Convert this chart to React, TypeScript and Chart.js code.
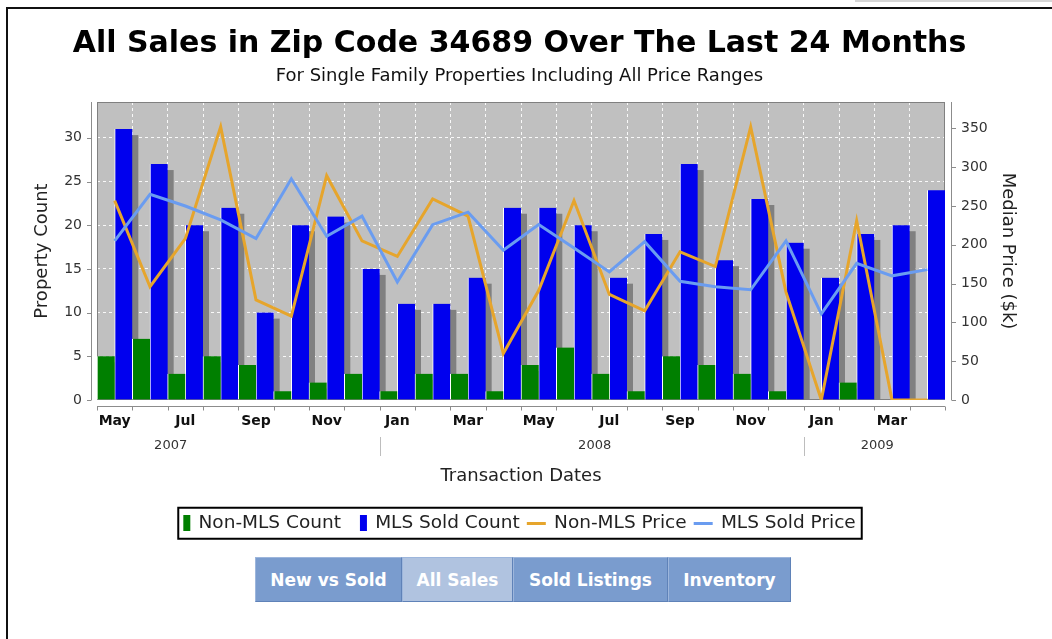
import React, { useEffect, useRef } from 'react';
import { Chart, registerables } from 'chart.js';

Chart.register(...registerables);

const FONT = "'DejaVu Sans', 'Liberation Sans', sans-serif";

// ---- data ----
const months = ['May', 'Jun', 'Jul', 'Aug', 'Sep', 'Oct', 'Nov', 'Dec', 'Jan', 'Feb', 'Mar', 'Apr',
  'May', 'Jun', 'Jul', 'Aug', 'Sep', 'Oct', 'Nov', 'Dec', 'Jan', 'Feb', 'Mar', 'Apr'];
const startYear = 2007;
const nonMlsCount = [5, 7, 3, 5, 4, 1, 2, 3, 1, 3, 3, 1, 4, 6, 3, 1, 5, 4, 3, 1, 0, 2, 0, 0];
const mlsSoldCount = [31, 27, 20, 22, 10, 20, 21, 15, 11, 11, 14, 22, 22, 20, 14, 19, 27, 16, 23, 18, 14, 19, 20, 24];
const nonMlsPrice = [257, 146, 208, 352, 129, 108, 289, 205, 185, 259, 237, 60, 141, 257, 136, 115, 191, 172, 352, 139, 0, 231, 0, 0];
const mlsSoldPrice = [205, 265, 250, 232, 208, 285, 211, 237, 152, 226, 242, 193, 226, 196, 165, 204, 153, 146, 142, 205, 111, 176, 160, 168];
const countAxisMax = 34.1;
const priceAxisMax = 384;
const seriesNames = ['Non-MLS Count', 'MLS Sold Count', 'Non-MLS Price', 'MLS Sold Price'];
const seriesColors = ['#007f00', '#0000ee', '#e6a52c', '#6a9cf0'];
const buttonLabels = ['New vs Sold', 'All Sales', 'Sold Listings', 'Inventory'];
const buttonWidths = [147, 111, 155, 123];
const activeButton = 1;

// legend marker images (centred on the 6px legend box; marker ends 8px before the text)
function barMarker(color: string) {
  const c = document.createElement('canvas');
  c.width = 40; c.height = 16;
  const g = c.getContext('2d')!;
  g.fillStyle = color;
  g.fillRect(17, 0, 7, 16);
  return c;
}
function lineMarker(color: string) {
  const c = document.createElement('canvas');
  c.width = 40; c.height = 3;
  const g = c.getContext('2d')!;
  g.fillStyle = color;
  g.fillRect(5, 0, 19, 3);
  return c;
}

const decorPlugin = {
  id: 'decor',
  beforeDraw(chart: any) {
    const { ctx, chartArea: a } = chart;
    ctx.save();
    ctx.fillStyle = '#c0c0c0';
    ctx.fillRect(a.left, a.top, a.right - a.left, a.bottom - a.top);
    ctx.restore();
  },
  beforeDatasetsDraw(chart: any) {
    const { ctx, chartArea: a } = chart;
    ctx.save();
    ctx.strokeStyle = '#808080';
    ctx.lineWidth = 1;
    ctx.strokeRect(a.left + 0.5, a.top + 0.5, a.right - a.left - 1, a.bottom - a.top - 1);
    ctx.beginPath();
    ctx.rect(a.left, a.top, a.right - a.left, a.bottom - a.top);
    ctx.clip();
    ctx.fillStyle = '#808080';
    chart.data.datasets.forEach((ds: any, i: number) => {
      const meta = chart.getDatasetMeta(i);
      if (meta.type !== 'bar') return;
      meta.data.forEach((el: any) => {
        const { x, y, base, width } = el.getProps(['x', 'y', 'base', 'width'], true);
        const top = y + 6;
        const h = base - top;
        if (h > 0) ctx.fillRect(x - width / 2 + 6, top, width, h);
      });
    });
    ctx.restore();
  },
  afterDraw(chart: any) {
    const { ctx, chartArea: a, scales } = chart;
    const xs = scales.x, ys = scales.y, y1 = scales.y1;
    ctx.save();
    ctx.strokeStyle = '#8c8c8c';
    ctx.lineWidth = 1;
    ctx.beginPath();
    // axis lines (offset from plot area)
    ctx.moveTo(a.left - 5.5, a.top); ctx.lineTo(a.left - 5.5, a.bottom);
    ctx.moveTo(a.right + 6.5, a.top); ctx.lineTo(a.right + 6.5, a.bottom);
    ctx.moveTo(a.left, a.bottom + 6.5); ctx.lineTo(a.right, a.bottom + 6.5);
    ys.ticks.forEach((t: any) => {
      const p = Math.round(ys.getPixelForValue(t.value)) + 0.5;
      ctx.moveTo(a.left - 10, p); ctx.lineTo(a.left - 5.5, p);
    });
    y1.ticks.forEach((t: any) => {
      const p = Math.round(y1.getPixelForValue(t.value)) + 0.5;
      ctx.moveTo(a.right + 6.5, p); ctx.lineTo(a.right + 11, p);
    });
    for (let i = 0; i <= months.length; i++) {
      const p = Math.round(xs.getPixelForValue(i - 0.5)) + 0.5;
      ctx.moveTo(p, a.bottom + 6.5); ctx.lineTo(p, a.bottom + 10.5);
    }
    ctx.stroke();

    // year row
    const yearStarts: { year: number; first: number; last: number; jan: number }[] = [];
    let year = startYear;
    const firstMonthIdx = ['Jan', 'Feb', 'Mar', 'Apr', 'May', 'Jun', 'Jul', 'Aug', 'Sep', 'Oct', 'Nov', 'Dec'].indexOf(months[0]);
    yearStarts.push({ year, first: 0, last: 0, jan: -firstMonthIdx });
    months.forEach((m, i) => {
      if (m === 'Jan' && i > 0) {
        year += 1;
        yearStarts.push({ year, first: i, last: i, jan: i });
      }
      yearStarts[yearStarts.length - 1].last = i;
    });
    ctx.font = `13px ${FONT}`;
    ctx.fillStyle = '#333';
    ctx.textAlign = 'center';
    ctx.textBaseline = 'middle';
    ctx.strokeStyle = '#bdbdbd';
    yearStarts.forEach((ys2, k) => {
      let px = xs.getPixelForValue(ys2.jan + 5.5);
      if (px < a.left || px > a.right) {
        px = (xs.getPixelForValue(ys2.first - 0.5) + xs.getPixelForValue(ys2.last + 0.5)) / 2;
      }
      ctx.fillText(String(ys2.year), px + 3, a.bottom + 46);
      if (k > 0) {
        const sx = Math.round(xs.getPixelForValue(ys2.first - 0.5)) + 0.5;
        ctx.beginPath();
        ctx.moveTo(sx, a.bottom + 37); ctx.lineTo(sx, a.bottom + 56);
        ctx.stroke();
      }
    });

    // legend frame
    const hb = chart.legend && chart.legend.legendHitBoxes;
    if (hb && hb.length) {
      const first = hb[0], last = hb[hb.length - 1];
      const cy = first.top + first.height / 2;
      const l = first.left - 5;
      ctx.strokeStyle = '#000';
      ctx.lineWidth = 2;
      ctx.strokeRect(l, cy - 15.5, last.left + last.width + 6 - l, 31);
    }
    ctx.restore();
  },
};

export default function App() {
  const ref = useRef<HTMLCanvasElement>(null);
  useEffect(() => {
    const markers = [barMarker(seriesColors[0]), barMarker(seriesColors[1]), lineMarker(seriesColors[2]), lineMarker(seriesColors[3])];
    const tickFont = { family: FONT, size: 14 };
    const titleFont = { family: FONT, size: 18 };
    const chart = new Chart(ref.current!, {
      type: 'bar',
      data: {
        labels: months,
        datasets: [
          { type: 'bar', label: seriesNames[0], data: nonMlsCount, backgroundColor: seriesColors[0], borderColor: '#ffffff', borderWidth: { left: 1, top: 0, right: 0, bottom: 0 }, borderSkipped: false, yAxisID: 'y', order: 2, categoryPercentage: 1, barPercentage: 1 },
          { type: 'bar', label: seriesNames[1], data: mlsSoldCount, backgroundColor: seriesColors[1], borderColor: '#ffffff', borderWidth: { left: 1, top: 0, right: 0, bottom: 0 }, borderSkipped: false, yAxisID: 'y', order: 2, categoryPercentage: 1, barPercentage: 1 },
          { type: 'line', label: seriesNames[2], data: nonMlsPrice, borderColor: seriesColors[2], backgroundColor: seriesColors[2], borderWidth: 3, pointRadius: 0, tension: 0, fill: false, yAxisID: 'y1', order: 1 },
          { type: 'line', label: seriesNames[3], data: mlsSoldPrice, borderColor: seriesColors[3], backgroundColor: seriesColors[3], borderWidth: 3, pointRadius: 0, tension: 0, fill: false, yAxisID: 'y1', order: 0 },
        ] as any,
      },
      options: {
        responsive: false,
        animation: false,
        events: [],
        layout: { padding: { left: 0, right: 1, top: 0, bottom: 6.5 } },
        plugins: {
          tooltip: { enabled: false },
          title: {
            display: true,
            text: 'All Sales in Zip Code 34689 Over The Last 24 Months',
            color: '#000',
            font: { family: FONT, size: 30, weight: 'bold' },
            padding: { top: 17, bottom: 0 },
          },
          subtitle: {
            display: true,
            text: 'For Single Family Properties Including All Price Ranges',
            color: '#111',
            font: { family: FONT, size: 18 },
            padding: { top: 3.2, bottom: 15.2 },
          },
          legend: {
            position: 'bottom',
            labels: {
              usePointStyle: true,
              pointStyleWidth: 6,
              boxHeight: 16,
              padding: 19,
              color: '#222',
              font: { family: FONT, size: 18.5 },
              generateLabels: () => seriesNames.map((name, i) => ({
                text: name,
                fillStyle: seriesColors[i],
                strokeStyle: seriesColors[i],
                lineWidth: 0,
                pointStyle: markers[i],
                hidden: false,
                datasetIndex: i,
                fontColor: '#222',
              })) as any,
            },
          },
        },
        scales: {
          x: {
            type: 'category',
            offset: true,
            grid: { color: 'rgba(255,255,255,0.9)', lineWidth: 1, offset: true, drawTicks: true, tickLength: 10, tickColor: 'transparent' },
            border: { display: false, dash: [3, 3] },
            ticks: {
              autoSkip: false, maxRotation: 0, minRotation: 0, padding: 3, color: '#111',
              font: { family: FONT, size: 14, weight: 'bold' },
              callback: (_v: any, i: number) => (i % 2 === 0 ? months[i] : ''),
            },
            title: { display: true, text: 'Transaction Dates', color: '#222', font: titleFont, padding: { top: 0, bottom: 8.2 } },
            afterFit: (s: any) => { s.height = 95; },
          },
          y: {
            position: 'left',
            min: 0,
            max: countAxisMax,
            grid: { color: 'rgba(255,255,255,0.9)', lineWidth: 1, drawTicks: true, tickLength: 10, tickColor: 'transparent' },
            border: { display: false, dash: [3, 3] },
            ticks: { stepSize: 5, includeBounds: false, padding: 5, color: '#333', font: tickFont },
            title: { display: true, text: 'Property Count', color: '#222', font: titleFont, padding: { top: 22.2, bottom: 0 } },
            afterFit: (s: any) => { s.width = 88; },
          },
          y1: {
            position: 'right',
            min: 0,
            max: priceAxisMax,
            grid: { drawOnChartArea: false, drawTicks: true, tickLength: 10, tickColor: 'transparent' },
            border: { display: false },
            ticks: { stepSize: 50, includeBounds: false, padding: 6, color: '#333', font: tickFont },
            title: { display: true, text: 'Median Price ($k)', color: '#222', font: titleFont, padding: { top: 11.2, bottom: 0 } },
            afterFit: (s: any) => { s.width = 85; },
          },
        },
      } as any,
      plugins: [decorPlugin],
    });
    return () => chart.destroy();
  }, []);

  let left = 0;
  return (
    <div style={{ position: 'relative', width: 1052, height: 639, overflow: 'hidden', background: '#fff', fontFamily: FONT }}>
      <style>{'body{margin:0;}'}</style>
      <div style={{ position: 'absolute', left: 855, top: 0, width: 197, height: 2, background: '#d6d6d6' }} />
      <div style={{ position: 'absolute', left: 6, top: 7, width: 1100, height: 700, borderTop: '2px solid #111', borderLeft: '2px solid #111' }} />
      <canvas ref={ref} width={1022} height={540} style={{ position: 'absolute', left: 9, top: 9, display: 'block' }} />
      <div style={{ position: 'absolute', left: 255, top: 557, height: 45, width: 536 }}>
        {buttonLabels.map((b, i) => {
          const el = (
            <div key={b} style={{
              position: 'absolute', left, top: 0, width: buttonWidths[i], height: 45,
              boxSizing: 'border-box',
              background: i === activeButton ? '#b0c3e0' : '#7a9cce',
              borderRight: '1px solid #5f82b8', borderLeft: '1px solid #9db6dc',
              borderBottom: '1px solid #5f82b8', borderTop: '1px solid #9db6dc',
              color: '#fff', fontWeight: 'bold', fontSize: 17, fontFamily: FONT,
              display: 'flex', alignItems: 'center', justifyContent: 'center',
            }}>{b}</div>
          );
          left += buttonWidths[i];
          return el;
        })}
      </div>
    </div>
  );
}
